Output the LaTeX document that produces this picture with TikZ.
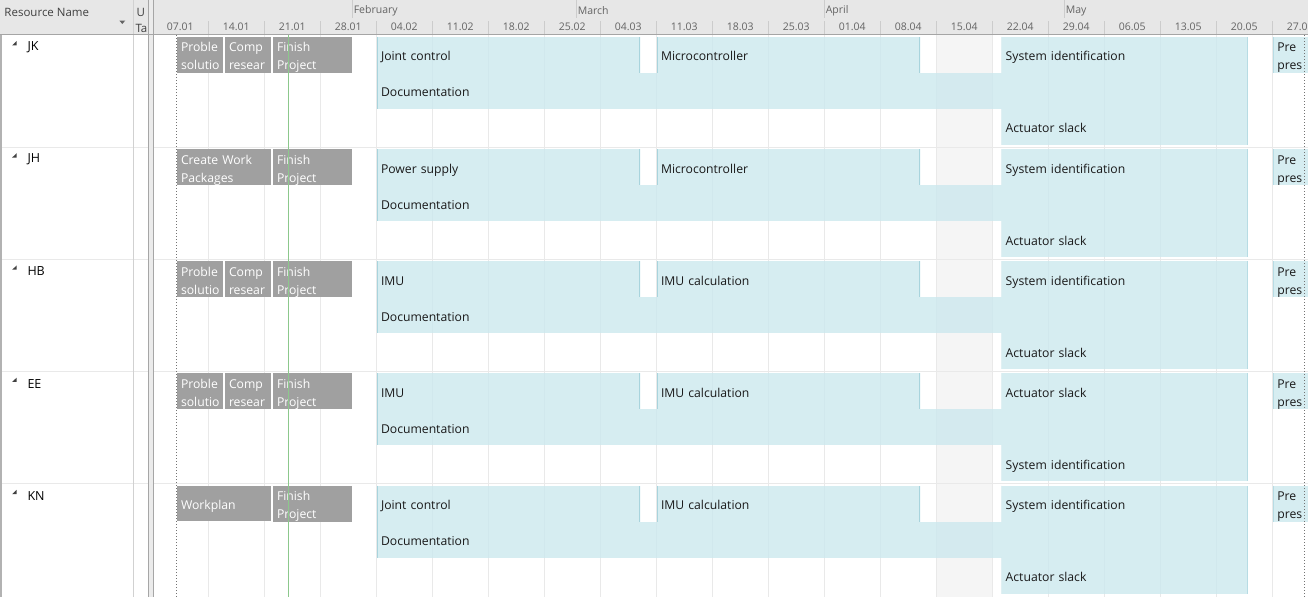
\documentclass[tikz,border=0pt]{standalone}
\usepackage{fontspec}
\setmainfont{Open Sans}
\usepackage{tikz}
\definecolor{hdr}{RGB}{231,231,231}
\definecolor{hdrline}{RGB}{165,165,165}
\definecolor{hdrtxt}{RGB}{100,100,100}
\definecolor{grid}{RGB}{233,233,233}
\definecolor{holiday}{RGB}{245,245,245}
\definecolor{task}{RGB}{204,232,238}
\definecolor{taskedge}{RGB}{168,212,221}
\definecolor{summ}{RGB}{160,160,160}
\definecolor{today}{RGB}{140,200,140}
\tikzset{every picture/.style={line width=1pt}}
\tikzstyle{hdrtext}=[text=hdrtxt,inner sep=0pt,font=\fontsize{11.5}{13}\selectfont]
\tikzstyle{datetext}=[text=hdrtxt,inner sep=0pt,font=\fontsize{10.5}{12}\selectfont]
\tikzstyle{sep}=[draw=black!20]
\tikzstyle{rowname}=[anchor=west,inner sep=0pt,font=\fontsize{12.5}{15}\selectfont]
\tikzstyle{barstrut}=[execute at begin node={\rule{0pt}{15pt}},
  execute at end node={\rule[-3pt]{0pt}{3pt}}]
\tikzstyle{bbar}=[fill=task,fill opacity=0.8,text opacity=1,text=black!90,anchor=north west,
  inner xsep=4pt,inner ysep=0pt,outer sep=0pt,align=left,minimum height=36pt,
  font=\fontsize{12.2}{18}\selectfont,barstrut,
  path picture={\draw[taskedge,line width=1.4pt]
    (path picture bounding box.north west) -- (path picture bounding box.south west)
    (path picture bounding box.north east) -- (path picture bounding box.south east);}]
\tikzstyle{gbar}=[fill=summ,text=white,anchor=north west,inner xsep=4pt,inner ysep=0pt,
  outer sep=0pt,align=left,minimum height=35.6pt,font=\fontsize{12.2}{18}\selectfont,barstrut]
\begin{document}
\begin{tikzpicture}[x=1pt,y=-1pt]
\clip (0,0) rectangle (1308,597);
% header
\fill[hdr] (0,0) rectangle (1308,34.3);
\node[hdrtext,anchor=west,text=black!75] (rn) at (4,12) {Resource Name};
\fill[hdrtxt] (119.3,20.5) -- (125.3,20.5) -- (122.3,24) -- cycle;
\node[hdrtext,anchor=west,text=black!75] (u) at (136,12) {U};
\node[hdrtext,anchor=west,text=black!75] (ta) at (135,28) {Ta};
\foreach \x/\m in {352.3/February,576.3/March,824.3/April,1064.3/May}{
  \draw[sep] (\x,0) -- (\x,18);
  \node[datetext,anchor=west] (m-\m) at (\x+1,11) {\m};
}
\foreach \d [count=\k from 0] in {07.01,14.01,21.01,28.01,04.02,11.02,18.02,25.02,04.03,11.03,
  18.03,25.03,01.04,08.04,15.04,22.04,29.04,06.05,13.05,20.05,27.05}{
  \node[datetext] (d\k) at (180.3+56*\k,27) {\d};
  \draw[sep] (152.3+56*\k,21) -- (152.3+56*\k,34.3);
}
% body background
\fill[holiday] (936.3,34.8) rectangle (992.3,597);
\foreach \k in {1,...,20}
  \draw[grid] (152.3+56*\k,34.8) -- (152.3+56*\k,597);
\foreach \r in {1,...,4}
  \draw[grid] (0,35+112.2*\r) -- (1308,35+112.2*\r);
\draw[black!18] (133.3,0) -- (133.3,597);
\draw[black!30,line width=1.5pt] (1,34.3) -- (1,597);
\fill[black!8] (148.3,0) rectangle (153.8,597);
\draw[black!35] (148.8,0) -- (148.8,597) (153.3,0) -- (153.3,597);
\draw[hdrline] (0,34.3) -- (1308,34.3);
% resources
\foreach \r/\nm/\ta/\tb/\tc/\td in {
  0/JK/Joint control/Microcontroller/System identification/Actuator slack,
  1/JH/Power supply/Microcontroller/System identification/Actuator slack,
  2/HB/IMU/IMU calculation/System identification/Actuator slack,
  3/EE/IMU/IMU calculation/Actuator slack/System identification,
  4/KN/Joint control/IMU calculation/System identification/Actuator slack}{
  \pgfmathsetmacro\T{35+112.2*\r}
  \fill[black!75] (16.7,\T+6) -- (16.7,\T+10.3) -- (12.2,\T+10.3) -- cycle;
  \node[rowname] (\nm) at (27,\T+12) {\nm};
  \node[bbar,text width=255pt] (\nm-a) at (377,\T+1.8) {\ta};
  \node[bbar,text width=255pt] (\nm-b) at (657,\T+1.8) {\tb};
  \node[bbar,text width=238pt] (\nm-c) at (1001.7,\T+1.8) {\tc};
  \node[bbar,text width=50pt] (\nm-p) at (1273.3,\T+1.8) {Pre\\pres};
  \node[bbar,text width=862.7pt] (\nm-doc) at (377,\T+37.8) {Documentation};
  \node[bbar,text width=238pt] (\nm-d) at (1001.7,\T+73.8) {\td};
}
% summary tasks
\foreach \r in {0,2,3}{
  \pgfmathsetmacro\T{35+112.2*\r}
  \node[gbar,text width=38pt] (ps\r) at (177,\T+1.8) {Proble\\solutio};
  \node[gbar,text width=38pt] (cr\r) at (225,\T+1.8) {Comp\\resear};
}
\foreach \r/\txt in {1/{Create Work\\Packages},4/Workplan}{
  \pgfmathsetmacro\T{35+112.2*\r}
  \node[gbar,text width=86pt] (wp\r) at (177,\T+1.8) {\txt};
}
\foreach \r in {0,...,4}{
  \pgfmathsetmacro\T{35+112.2*\r}
  \node[gbar,text width=71pt] (fp\r) at (273,\T+1.8) {Finish\\Project};
}
% start, finish and status date
\draw[black!55,dash pattern=on 1pt off 2pt] (176.3,35) -- (176.3,597);
\draw[black!55,dash pattern=on 1pt off 2pt] (1304.3,35) -- (1304.3,597);
\draw[today] (288.3,35) -- (288.3,597);
\end{tikzpicture}
\end{document}
